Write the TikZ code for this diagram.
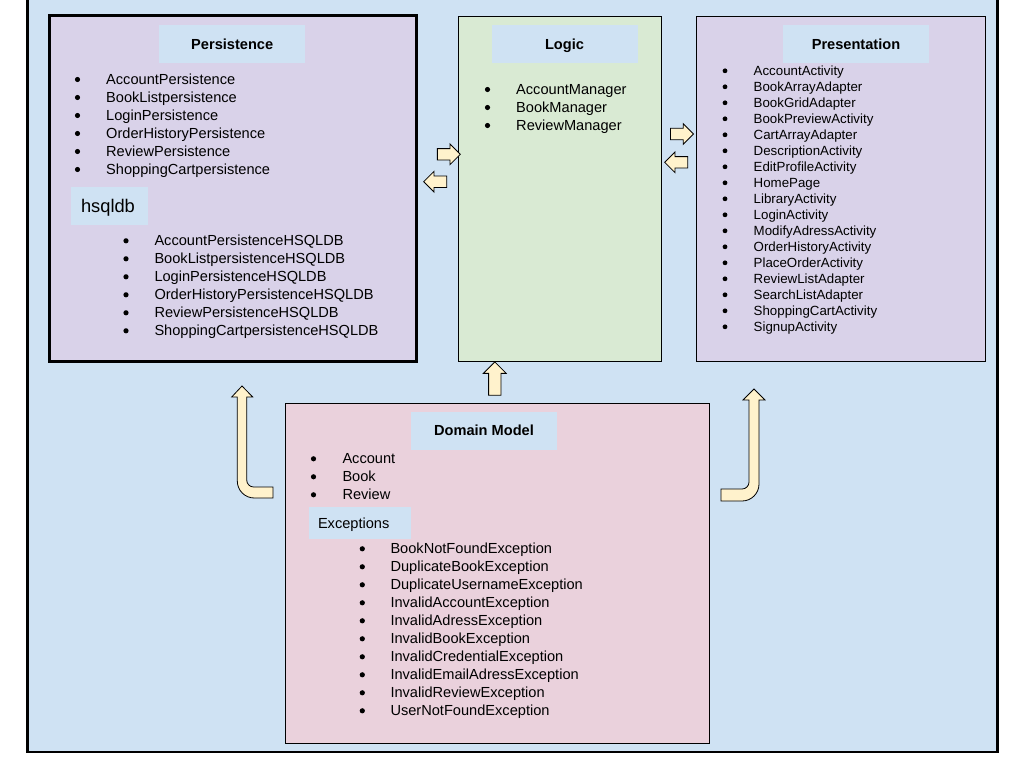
\documentclass[tikz,border=0pt]{standalone}
\usepackage{fontspec}
\setmainfont{Liberation Sans}
\usetikzlibrary{shapes.arrows}
\definecolor{bgblue}{HTML}{CFE2F3}
\definecolor{boxpurple}{HTML}{D9D2E9}
\definecolor{boxgreen}{HTML}{D9EAD3}
\definecolor{boxpink}{HTML}{EAD1DC}
\definecolor{arrowfill}{HTML}{FFF2CC}
\tikzset{
  layerbox/.style={draw=black, line width=1pt, inner sep=0pt, rectangle},
  hdr/.style={fill=bgblue, inner sep=0pt, minimum width=146pt, minimum height=38pt,
    font=\fontsize{14.6pt}{18pt}\selectfont\bfseries, text height=10.5pt, text depth=0pt},
  sublabel/.style={fill=bgblue, inner sep=0pt, align=left},
  itemtxt/.style={anchor=base west, inner sep=0pt, font=\fontsize{14.6pt}{18pt}\selectfont},
  smallitem/.style={anchor=base west, inner sep=0pt, font=\fontsize{13.3pt}{16pt}\selectfont},
  blockarrow/.style={single arrow, draw=black, line width=0.8pt, fill=arrowfill,
    inner sep=5.3pt, single arrow head extend=4.7pt, minimum height=23pt},
  bentarrow/.style={draw=black, line width=0.8pt, fill=arrowfill, line join=miter},
}
\begin{document}
\begin{tikzpicture}[x=1pt,y=-1pt]
\useasboundingbox (0,0) rectangle (1024,768);
% outer background
\draw[line width=2.8pt, fill=bgblue] (27.3,-4) rectangle (997.3,752);

% layer boxes
\node[layerbox, fill=boxpurple, line width=3pt, minimum width=367pt, minimum height=345.3pt] (pers) at (232.5,188.65) {};
\node[layerbox, fill=boxgreen, minimum width=202.7pt, minimum height=344pt] (logic) at (559.65,189) {};
\node[layerbox, fill=boxpurple, minimum width=289pt, minimum height=344pt] (pres) at (840.5,189) {};
\node[layerbox, fill=boxpink, minimum width=424pt, minimum height=340pt] (dom) at (497.3,573.3) {};

% headers
\node[hdr] (hpers) at (232.2,44) {Persistence};
\node[hdr] (hlogic) at (564.5,44) {Logic};
\node[hdr] (hpres) at (856,44) {Presentation};
\node[hdr] (hdom) at (484,430.5) {Domain Model};

% sub labels
\node[sublabel, inner xsep=10pt, text width=57pt, minimum height=38pt,
  font=\fontsize{18.3pt}{20pt}\selectfont, text height=13.3pt, text depth=0pt] (hsql) at (109.5,206) {hsqldb};
\node[sublabel, inner xsep=9pt, text width=84pt, minimum height=32pt,
  font=\fontsize{14.6pt}{18pt}\selectfont, text height=10.5pt, text depth=0pt] (hexc) at (360,523) {Exceptions};

% Persistence items
\foreach \t [count=\i] in {AccountPersistence,BookListpersistence,LoginPersistence,OrderHistoryPersistence,ReviewPersistence,ShoppingCartpersistence}{
  \node[itemtxt] (pi\i) at (106,{84+18*(\i-1)}) {\t};
  \fill (77.5,{79.5+18*(\i-1)}) circle (2.6pt);
}
% hsqldb items
\foreach \t [count=\i] in {AccountPersistenceHSQLDB,BookListpersistenceHSQLDB,LoginPersistenceHSQLDB,OrderHistoryPersistenceHSQLDB,ReviewPersistenceHSQLDB,ShoppingCartpersistenceHSQLDB}{
  \node[itemtxt] (hi\i) at (154.3,{245.3+18*(\i-1)}) {\t};
  \fill (126,{240.8+18*(\i-1)}) circle (2.6pt);
}
% Logic items
\foreach \t [count=\i] in {AccountManager,BookManager,ReviewManager}{
  \node[itemtxt] (li\i) at (516,{94+18*(\i-1)}) {\t};
  \fill (487.5,{89.5+18*(\i-1)}) circle (2.6pt);
}
% Presentation items
\foreach \t [count=\i] in {AccountActivity,BookArrayAdapter,BookGridAdapter,BookPreviewActivity,CartArrayAdapter,DescriptionActivity,EditProfileActivity,HomePage,LibraryActivity,LoginActivity,ModifyAdressActivity,OrderHistoryActivity,PlaceOrderActivity,ReviewListAdapter,SearchListAdapter,ShoppingCartActivity,SignupActivity}{
  \node[smallitem] (ri\i) at (753.5,{75+16*(\i-1)}) {\t};
  \fill (725,{70.8+16*(\i-1)}) circle (2.4pt);
}
% Domain items
\foreach \t [count=\i] in {Account,Book,Review}{
  \node[itemtxt] (di\i) at (342.3,{463.3+18*(\i-1)}) {\t};
  \fill (313.5,{458.8+18*(\i-1)}) circle (2.6pt);
}
% Exception items
\foreach \t [count=\i] in {BookNotFoundException,DuplicateBookException,DuplicateUsernameException,InvalidAccountException,InvalidAdressException,InvalidBookException,InvalidCredentialException,InvalidEmailAdressException,InvalidReviewException,UserNotFoundException}{
  \node[itemtxt] (ei\i) at (390.3,{553.3+18*(\i-1)}) {\t};
  \fill (362.3,{548.8+18*(\i-1)}) circle (2.6pt);
}

% block arrows between layers
\node[blockarrow] (aPL) at (446,154.3) {};
\node[blockarrow, shape border rotate=180] (aLP) at (438,181.7) {};
\node[blockarrow] (aLR) at (679.2,134) {};
\node[blockarrow, shape border rotate=180] (aRL) at (679,162.3) {};
\node[blockarrow, shape border rotate=90, minimum height=33.3pt, inner sep=5.8pt, single arrow head extend=5.2pt] (aDL) at (494.8,381.7) {};

% bent arrows from domain model
\draw[bentarrow] (242,386) -- (252.7,397) -- (246.7,397) -- (246.7,480)
  .. controls (246.7,483.9) and (249.8,487) .. (253.7,487) -- (273,487) -- (273,498) -- (254.3,498)
  .. controls (244.9,498) and (237.3,490.4) .. (237.3,481) -- (237.3,397) -- (231.7,397) -- cycle;
\draw[bentarrow] (754,389) -- (765,400) -- (759,400) -- (759,484)
  .. controls (759,493.4) and (751.4,501) .. (742,501) -- (721,501) -- (721,489) -- (742,489)
  .. controls (745.9,489) and (749,485.9) .. (749,482) -- (749,400) -- (743,400) -- cycle;
\end{tikzpicture}
\end{document}
